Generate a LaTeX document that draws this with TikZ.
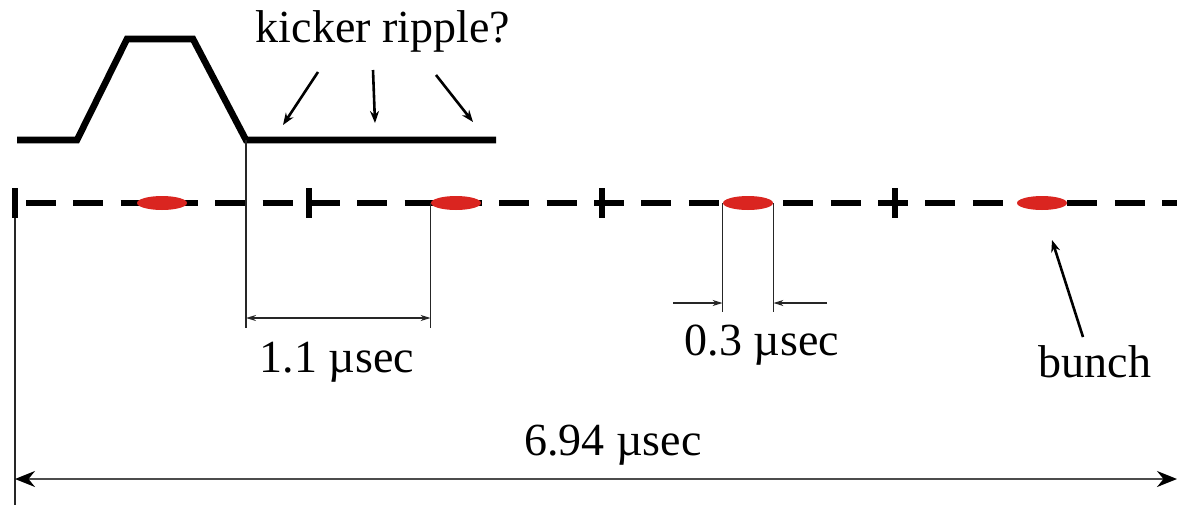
\documentclass[tikz,border=0pt]{standalone}
\usepackage{fontspec}
\setmainfont{Liberation Serif}
\usetikzlibrary{arrows.meta,shapes.geometric}
\definecolor{bunchred}{RGB}{218,37,32}
\begin{document}
\begin{tikzpicture}[
    x=0.5pt, y=-0.5pt,
    pulse/.style={line width=3.3pt, line join=miter},
    beam/.style={line width=3pt, dash pattern=on 15pt off 8.67pt},
    tickmark/.style={line width=2.8pt},
    bunch/.style={ellipse, fill=bunchred, inner sep=0pt,
                  minimum width=25pt, minimum height=7pt},
    guide/.style={line width=0.75pt, draw=black!85},
    dim/.style={guide, {Stealth[length=5pt,width=3pt]}-{Stealth[length=5pt,width=3pt]}},
    bigdim/.style={line width=1pt, draw=black!70,
                   {Stealth[length=10pt,width=8pt,color=black]}-{Stealth[length=10pt,width=8pt,color=black]}},
    pointer/.style={line width=1.3pt, -{Stealth[length=6pt,width=4.5pt]}},
    lbl/.style={font=\fontsize{23}{27}\selectfont, inner sep=0pt, anchor=base}]
  \useasboundingbox (0,0) rectangle (1177,509);
  % kicker pulse
  \draw[pulse] (17,140) -- (77,140) -- (127,39) -- (193,39) -- (246,140)
    coordinate (kick) -- (496,140);
  \node[lbl] (ripple) at (383,42) {kicker ripple?};
  \draw[pointer] (318,72) -- (283,125);
  \draw[pointer] (373,70) -- (375,123);
  \draw[pointer] (436,75) -- (473,122);
  % beam line
  \draw[beam] (26,203) -- (1177,203);
  \foreach \t in {15,309,602,895}
    \draw[tickmark] (\t,188) -- (\t,218);
  \foreach \i/\bx in {1/162,2/456,3/748,4/1042}
    \node[bunch] (b\i) at (\bx,203) {};
  % 1.1 usec
  \draw[guide] (kick) -- ++(0,188) coordinate (k1);
  \draw[guide] (b2.west) -- (b2.west |- k1);
  \draw[dim] (kick |- 0,318) -- (b2.west |- 0,318);
  \node[lbl] (t11) at (337,372) {1.1 µsec};
  % 0.3 usec
  \draw[guide] (b3.west) -- (b3.west |- 0,312);
  \draw[guide] (b3.east) -- (b3.east |- 0,312);
  \coordinate (l3) at (673,303);
  \coordinate (r3) at (827,303);
  \draw[guide, -{Stealth[length=5pt,width=3pt]}] (l3) -- (b3.west |- l3);
  \draw[guide, -{Stealth[length=5pt,width=3pt]}] (r3) -- (b3.east |- r3);
  \node[lbl] (t03) at (762,355) {0.3 µsec};
  % bunch label
  \node[lbl] (bl) at (1095,377) {bunch};
  \draw[pointer] (1083,337) -- (1052,240);
  % revolution period
  \coordinate (o) at (15,218);
  \draw[guide] (o) -- (15,505);
  \draw[bigdim] (o |- 0,479) -- (1177,479);
  \node[lbl] (t694) at (613,455) {6.94 µsec};
\end{tikzpicture}
\end{document}
